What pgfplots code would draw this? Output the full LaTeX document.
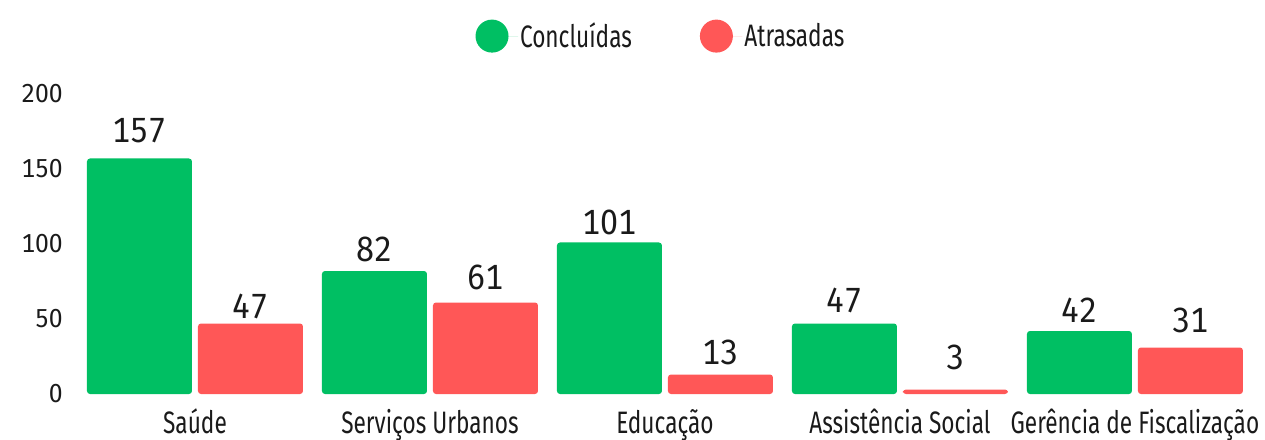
\documentclass[border=0pt]{standalone}
\usepackage{fontspec}
\usepackage{pgfplots}
\usepackage{pgfplotstable}
\pgfplotsset{compat=1.18}
\setmainfont[FakeStretch=0.73]{Fira Sans}
\newfontfamily\valfont[FakeStretch=0.92, Numbers=Monospaced]{Fira Sans}
\newfontfamily\tickfont[FakeStretch=0.95, Numbers=Monospaced]{Fira Sans}
\definecolor{cgreen}{HTML}{00BF63}
\definecolor{cred}{HTML}{FF5757}
\definecolor{ctext}{HTML}{1A1A1A}

\pgfplotstableread{
x y off
0 157 15
1 82 9
2 101 7.5
3 47 10
4 42 8
}\concluidas
\pgfplotstableread{
x y off
0 47 4
1 61 12
2 13 9.5
3 3 19
4 31 14
}\atrasadas

\begin{document}
\begin{tikzpicture}
\useasboundingbox (-77.5pt,-45pt) rectangle (1187.5pt,394pt);
\begin{axis}[
  at={(0pt,0pt)}, anchor=south west,
  scale only axis, width=1175pt, height=300pt,
  xmin=-0.5, xmax=4.5, ymin=0, ymax=200,
  ytick={0,50,100,150,200},
  xtick=data,
  xticklabels={Saúde,Serviços Urbanos,Educação,Assistência Social,Gerência de Fiscalização},
  axis line style={draw=none},
  tick style={draw=none},
  major tick length=0pt,
  /pgf/number format/assume math mode=true,
  yticklabel style={font=\tickfont\fontsize{26}{28}\selectfont, text=ctext, anchor=east, inner sep=0pt, xshift=-14.5pt},
  xticklabel style={font=\fontsize{31}{33}\selectfont, text=ctext, anchor=base, inner sep=0pt, yshift=-39pt},
  ybar=6pt, bar width=105pt,
  clip=false,
  nodes near coords,
  visualization depends on={\thisrow{off} \as \labeloff},
  nodes near coords style={font=\valfont\fontsize{35}{37}\selectfont, text=ctext, anchor=south, inner sep=0pt, yshift=\labeloff pt},
  legend columns=2,
  legend style={at={(0.5,1.193)}, anchor=center, xshift=-4pt, draw=none, fill=none,
    font=\fontsize{31}{33}\selectfont, text=ctext,
    /tikz/every even column/.append style={column sep=66pt}},
  legend cell align=left,
]
\addplot[fill=cgreen, draw=none, rounded corners=3pt,
  legend image code/.code={\fill[cgreen] (0pt,0pt) circle (16.5pt); \path (0pt,0pt) -- (26pt,0pt);}]
  table[x=x, y=y] {\concluidas};
\addlegendentry{Concluídas}
\addplot[fill=cred, draw=none, rounded corners=3pt,
  legend image code/.code={\fill[cred] (0pt,0pt) circle (16.5pt); \path (0pt,0pt) -- (26pt,0pt);}]
  table[x=x, y=y] {\atrasadas};
\addlegendentry{Atrasadas}
\end{axis}
\end{tikzpicture}
\end{document}
